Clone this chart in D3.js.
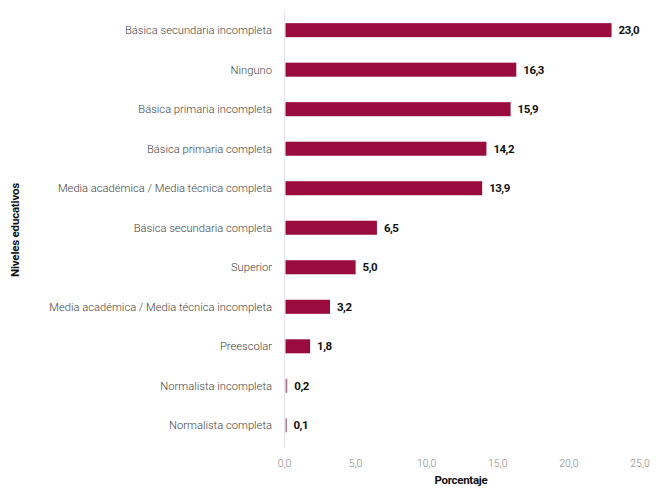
<!DOCTYPE html>
<html><head><meta charset="utf-8">
<script src="https://cdn.jsdelivr.net/npm/d3@7"></script>
<style>body{margin:0;background:#fff}</style>
</head><body>
<svg id="c" width="663" height="492"></svg>
<script>
const categories = ["Básica secundaria incompleta","Ninguno","Básica primaria incompleta","Básica primaria completa","Media académica / Media técnica completa","Básica secundaria completa","Superior","Media académica / Media técnica incompleta","Preescolar","Normalista incompleta","Normalista completa"];
const values = [23.0,16.3,15.9,14.2,13.9,6.5,5.0,3.2,1.8,0.2,0.1];
const tickValues = [0,5,10,15,20,25];
const xTitle = "Porcentaje";
const yTitle = "Niveles educativos";

const svg = d3.select("#c");
const fmt = v => d3.format(".1f")(v).replace(".", ",");
const x = d3.scaleLinear().domain([0,25]).range([284.5,640]);
const y = d3.scaleBand().domain(categories).range([10.5,445]).paddingInner(0.645).paddingOuter(0.32);

// axis line
svg.append("line").attr("x1",x(0)).attr("x2",x(0)).attr("y1",10).attr("y2",448)
  .attr("stroke","#e6e6e6").attr("stroke-width",1.2);

svg.selectAll("rect.bar").data(values).join("rect").attr("class","bar")
  .attr("x",x(0)+1).attr("y",(d,i)=>y(categories[i]))
  .attr("width",d=>Math.max(1.5,x(d)-x(0)-1)).attr("height",y.bandwidth())
  .attr("fill",(d)=> d<0.5 ? "#b07d90" : "#9a0c3e");

svg.selectAll("text.cat").data(categories).join("text").attr("class","cat")
  .attr("x",272).attr("y",d=>y(d)+y.bandwidth()/2).attr("dy","0.35em")
  .attr("text-anchor","end").attr("font-family","Roboto").attr("font-weight",300)
  .attr("font-size",11.2).attr("fill","#444")
  .text(d=>d);

svg.selectAll("text.val").data(values).join("text").attr("class","val")
  .attr("x",d=>Math.max(x(d),x(0)+2)+7).attr("y",(d,i)=>y(categories[i])+y.bandwidth()/2).attr("dy","0.35em")
  .attr("font-family","Roboto").attr("font-weight",700).attr("font-size",11.5)
  .attr("fill","#111").attr("letter-spacing","-0.5")
  .text(d=>fmt(d));

svg.selectAll("text.tick").data(tickValues).join("text").attr("class","tick")
  .attr("x",d=>x(d)).attr("y",463).attr("dy","0.35em").attr("text-anchor","middle")
  .attr("font-family","Roboto").attr("font-weight",300).attr("font-size",10.5)
  .attr("fill","#888").text(d=>fmt(d));

svg.append("text").attr("x",461).attr("y",484).attr("text-anchor","middle")
  .attr("font-family","Roboto").attr("font-weight",700).attr("font-size",11.5)
  .attr("fill","#111").attr("letter-spacing","-0.3").text(xTitle);

svg.append("text").attr("transform","translate(15,230) rotate(-90)").attr("dy","0.35em")
  .attr("text-anchor","middle").attr("font-family","Roboto").attr("font-weight",700)
  .attr("font-size",11.5).attr("fill","#111").attr("letter-spacing","-0.2").text(yTitle);
</script>
</body></html>
